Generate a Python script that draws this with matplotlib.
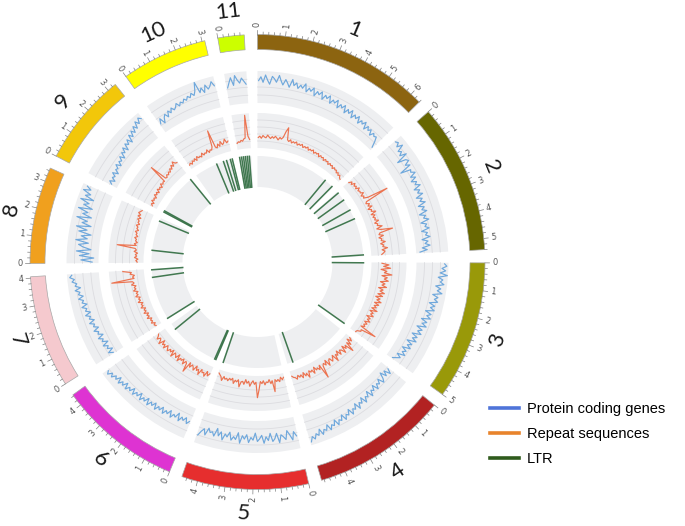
import numpy as np
import matplotlib
matplotlib.use("Agg")
import matplotlib.pyplot as plt
from matplotlib.lines import Line2D

# ---------------- data ----------------
chrom_names = ["1", "2", "3", "4", "5", "6", "7", "8", "9", "10", "11"]
chrom_sizes = [6.4, 5.4, 5.0, 4.9, 4.58, 4.45, 4.05, 3.5, 3.33, 3.1, 0.95]  # Mb
chrom_colors = ["#8c6410", "#666600", "#999909", "#b22222", "#e62e2e", "#de33d2",
                "#f5c9ce", "#f0a01e", "#f2c70a", "#ffff00", "#ccff00"]

# protein coding gene density (0-100 of track height)
genes_1 = [70,82,65,88,72,60,85,78,68,90,74,62,80,70,58,84,66,76,60,72,
           64,80,56,70,62,75,52,68,60,72,50,66,58,70,48,62,55,68,45,60,
           52,64,42,58,48,62,40,55,46,58,38,52,44,56,35,50,40,48,32,45,
           38,42,28,10]
genes_2 = [75,80,68,85,62,70,58,78,40,66,72,55,68,30,62,58,70,50,64,45,
           60,52,66,42,58,48,62,38,55,45,60,35,52,42,56,30,48,40,55,28,
           45,38,50,25,42,35,48,22,40,30,45,20,35,12]
genes_3 = [88,95,80,92,75,98,70,85,78,90,65,82,72,88,60,78,68,80,55,74,
           62,76,50,70,58,72,45,65,52,68,40,60,48,62,35,55,42,58,30,50,
           38,52,28,45,35,48,25,40,30,20]
genes_4 = [30,45,25,40,20,38,48,28,42,35,50,30,45,38,55,32,48,42,58,36,
           52,45,62,40,56,50,65,44,60,54,68,48,64,58,72,52,68,62,76,56,
           72,66,80,60,78,70,85,75,90]
genes_5 = [60,45,70,52,38,65,55,48,72,42,58,66,40,62,50,70,45,56,64,38,
           60,52,68,44,58,48,72,40,62,54,66,42,58,50,70,46,60,38,64,52,
           56,44,68,50,60,75]
genes_6 = [45,55,38,50,42,58,35,52,46,60,40,55,48,62,44,58,50,65,46,60,
           52,68,48,64,56,70,50,66,58,72,54,70,62,76,58,74,66,80,62,78,
           70,84,74,88,80]
genes_7 = [35,48,30,45,38,52,32,48,42,55,36,50,45,58,40,54,48,62,44,58,
           52,66,48,62,56,70,52,66,60,74,58,72,66,80,62,78,72,86,78,92,85]
genes_8 = [20,55,15,60,30,70,25,50,65,35,75,40,60,30,70,45,80,35,65,50,
           85,40,70,55,88,45,75,60,90,50,80,65,92,70,85]
genes_9 = [20,30,15,28,22,35,18,32,28,40,25,38,32,45,30,48,40,55,38,58,
           48,62,45,68,55,72,60,78,65,85,72,88,80]
genes_10 = [30,45,25,40,48,35,52,42,55,45,50,60,48,58,52,62,55,65,58,70,
            60,72,98,62,75,58,80,65,72,85,70]
genes_11 = [55,70,85,60,90,75,65,80,70,60]

# repeat sequence density (0-100 of track height)
repeats_1 = [30,34,28,36,32,30,38,33,29,35,31,37,33,28,36,32,38,56,68,34,
             30,36,28,33,30,35,27,32,29,34,26,31,28,33,25,30,27,32,24,29,
             26,30,22,28,24,27,20,26,22,25,18,24,20,23,16,22,18,20,14,18,
             12,16,10,8]
repeats_2 = [20,28,22,32,25,30,24,34,26,30,28,36,25,32,28,40,100,30,26,35,
             28,38,24,33,30,42,26,36,28,34,30,40,27,35,32,45,28,38,72,34,
             30,42,28,36,33,44,30,38,35,48,32,40,36,30]
repeats_3 = [30,50,35,55,28,45,38,60,32,48,40,52,30,44,36,50,28,42,34,48,
             30,45,26,40,32,46,28,42,30,38,26,44,24,36,30,40,22,35,28,38,
             24,34,26,32,22,72,28,30,20,18]
repeats_4 = [15,25,12,30,18,46,20,28,15,35,22,18,30,14,26,20,38,16,24,30,
             18,22,35,15,28,20,25,60,18,30,22,26,15,32,20,24,18,36,22,28,
             16,30,20,25,18,28,22,20,15]
repeats_5 = [12,18,10,22,15,20,14,48,16,24,12,20,18,26,14,22,16,40,62,18,
             24,14,20,30,16,22,12,26,18,20,35,15,22,18,28,14,20,16,24,18,
             22,15,28,18,14,10]
repeats_6 = [22,30,18,35,25,28,20,38,24,30,18,34,26,22,32,20,52,28,24,36,
             22,30,26,38,20,34,28,24,40,22,32,26,36,30,24,38,28,34,22,40,
             30,26,36,28,24]
repeats_7 = [16,20,14,24,18,22,16,28,20,25,18,30,22,26,20,32,24,28,22,34,
             26,30,24,36,28,32,26,38,30,34,28,40,32,36,95,30,34,28,40,36,60]
repeats_8 = [18,22,16,26,20,24,18,28,22,26,78,24,30,22,28,26,32,24,30,28,
             34,26,32,30,36,28,34,32,38,30,40,34,42,38,35]
repeats_9 = [15,20,14,24,18,22,16,26,20,25,18,28,22,26,20,30,24,28,26,80,
             30,28,34,30,36,32,40,35,45,38,50,42,40]
repeats_10 = [12,16,10,18,14,20,12,22,16,18,14,24,16,20,18,26,16,22,20,28,
              75,24,20,30,22,35,24,28,38,26,30]
repeats_11 = [18,22,20,25,22,28,30,95,35,25]

# LTR positions (Mb)
ltr_1 = [5.6, 6.3]
ltr_2 = [0.12, 0.8, 1.7, 2.45, 5.3]
ltr_3 = [0.03, 4.95]
ltr_4 = [4.46]
ltr_5 = [4.5]
ltr_6 = [0.05, 0.15, 3.95]
ltr_7 = [0.05, 3.4, 3.98]
ltr_8 = [0.95, 3.25]
ltr_9 = [0.05, 0.15, 3.28]
ltr_10 = [1.8, 2.35, 2.6, 2.9, 3.05]
ltr_11 = [0.05, 0.2, 0.35, 0.5, 0.65, 0.8]

legend_labels = ["Protein coding genes", "Repeat sequences", "LTR"]
legend_colors = ["#4f74d9", "#e8842c", "#2f5b1c"]

genes = [genes_1, genes_2, genes_3, genes_4, genes_5, genes_6, genes_7,
         genes_8, genes_9, genes_10, genes_11]
repeats = [repeats_1, repeats_2, repeats_3, repeats_4, repeats_5, repeats_6,
           repeats_7, repeats_8, repeats_9, repeats_10, repeats_11]
ltrs = [ltr_1, ltr_2, ltr_3, ltr_4, ltr_5, ltr_6, ltr_7, ltr_8, ltr_9,
        ltr_10, ltr_11]

# ---------------- layout ----------------
GAP = np.deg2rad(3.34)
k = (2 * np.pi - len(chrom_sizes) * GAP) / sum(chrom_sizes)  # rad per Mb
starts = []
t = 0.0
for s in chrom_sizes:
    starts.append(t)
    t += s * k + GAP

R_IDEO = (212.5, 227.5)
R_GENE = (159, 191)
R_REP = (114, 149)
R_LTR = (75, 106)
BG = "#eeeff1"
GRID = "#dcdce0"

fig = plt.figure(figsize=(6.85, 5.26), dpi=100)
ax = fig.add_axes([-2.5 / 685, 4 / 526, 520 / 685, 520 / 526], projection="polar")
ax.set_theta_zero_location("N")
ax.set_theta_direction(-1)
ax.set_ylim(0, 260)
ax.set_axis_off()

for i, (name, size, col) in enumerate(zip(chrom_names, chrom_sizes, chrom_colors)):
    t0 = starts[i]
    span = size * k
    # ideogram
    ax.bar(t0, R_IDEO[1] - R_IDEO[0], width=span, bottom=R_IDEO[0], align="edge",
           color=col, edgecolor="#a8a8a8", linewidth=0.5)
    # track backgrounds
    for (r0, r1) in (R_GENE, R_REP, R_LTR):
        ax.bar(t0, r1 - r0, width=span, bottom=r0, align="edge", color=BG, linewidth=0)
    th_arc = np.linspace(t0, t0 + span, 120)
    for f in (0.25, 0.5, 0.75):
        rr = R_GENE[0] + f * (R_GENE[1] - R_GENE[0])
        ax.plot(th_arc, np.full_like(th_arc, rr), color=GRID, lw=0.6)
    for f in (0.2, 0.4, 0.6, 0.8):
        rr = R_REP[0] + f * (R_REP[1] - R_REP[0])
        ax.plot(th_arc, np.full_like(th_arc, rr), color=GRID, lw=0.6)

    # ticks
    for p in np.arange(0, size + 1e-9, 0.2):
        th = t0 + p * k
        major = abs(p - round(p)) < 1e-6
        ax.plot([th, th], [R_IDEO[1], R_IDEO[1] + (4.5 if major else 2.5)],
                color="#808080", lw=0.5)
        if major:
            d = np.rad2deg(th)
            rot = 90 - d
            if d > 180:
                rot += 180
            ax.text(th, 237.5, str(int(round(p))), rotation=rot, rotation_mode="anchor",
                    ha="center", va="center", fontsize=6, color="#555555")
    # chromosome label
    mid = t0 + span / 2
    d = np.rad2deg(mid)
    rot = -d
    if 90 < d < 270:
        rot += 180
    ax.text(mid, 252, name, rotation=rot, rotation_mode="anchor", ha="center",
            va="center", fontsize=16, color="#1a1a1a",
            family=["Lato", "DejaVu Sans"], fontweight="normal")

    # gene density line
    g = np.array(genes[i], dtype=float)
    n = len(g)
    th = t0 + (np.arange(n) + 0.5) / n * span
    ax.plot(th, R_GENE[0] + g / 100 * (R_GENE[1] - R_GENE[0]), color="#6fa8dc",
            lw=0.85)
    # repeat density line
    rp = np.array(repeats[i], dtype=float)
    n = len(rp)
    th = t0 + (np.arange(n) + 0.5) / n * span
    ax.plot(th, R_REP[0] + rp / 100 * (R_REP[1] - R_REP[0]), color="#ec7350",
            lw=0.85)
    # LTR
    for p in ltrs[i]:
        th = t0 + p * k
        ax.plot([th, th], [R_LTR[0], R_LTR[1]], color="#2e6b3e", lw=1.1, alpha=0.9)

handles = [Line2D([0], [0], color=c, lw=2.6) for c in legend_colors]
fig.legend(handles, legend_labels, loc="upper left",
           bbox_to_anchor=(490 / 685, 1 - 402 / 526), frameon=False,
           prop={"family": "Liberation Sans", "size": 10.5}, handlelength=2.0,
           handletextpad=0.55, labelspacing=0.75, borderpad=0, borderaxespad=0)

fig.savefig("out.png", dpi=100)
